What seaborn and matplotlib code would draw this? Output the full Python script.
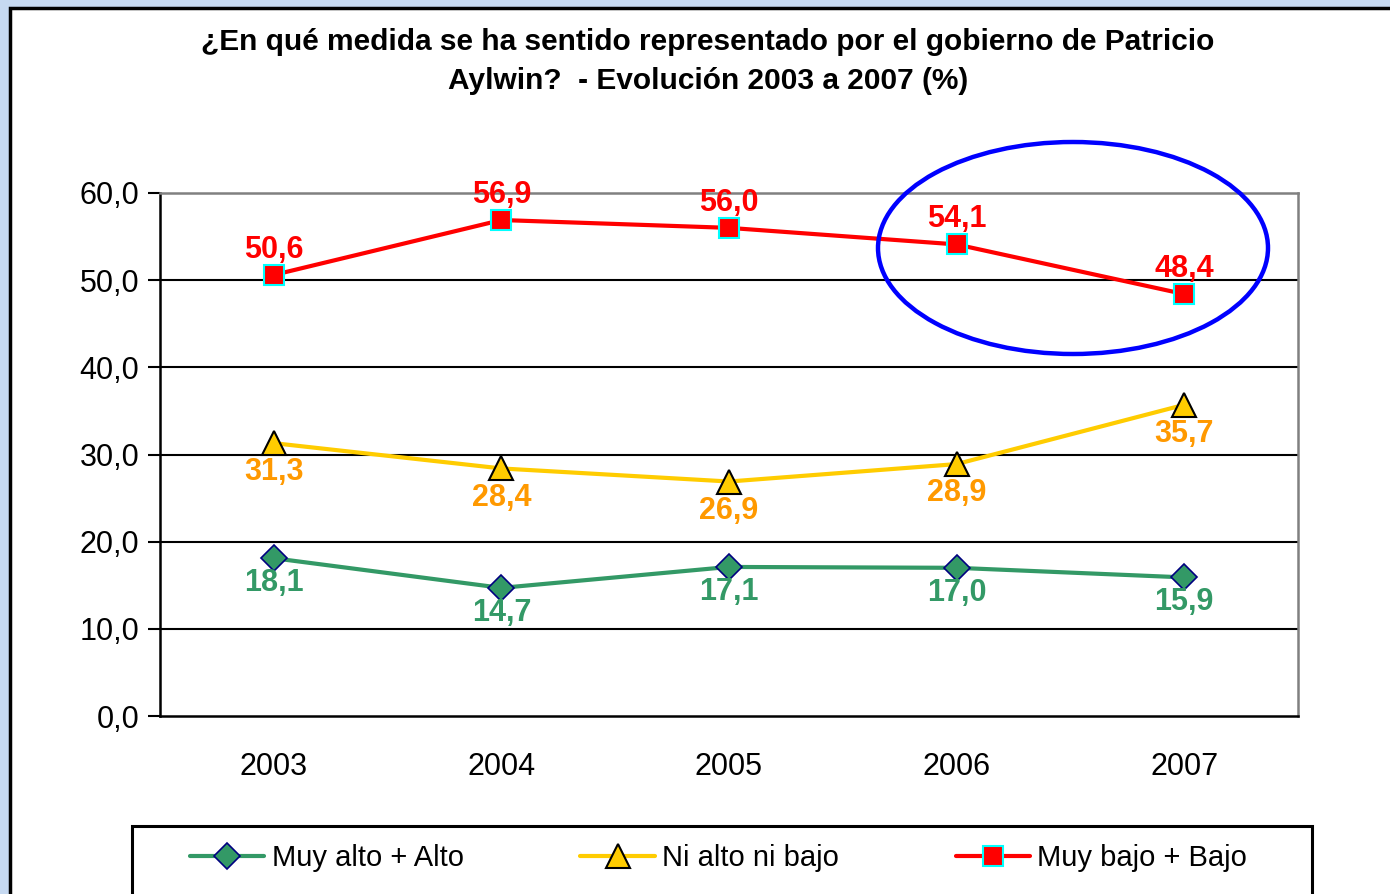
import matplotlib
matplotlib.use("Agg")
import matplotlib.pyplot as plt
from matplotlib.patches import Rectangle, Ellipse
import seaborn as sns
import pandas as pd

years = ["2003", "2004", "2005", "2006", "2007"]
series_names = ["Muy alto + Alto", "Ni alto ni bajo", "Muy bajo + Bajo"]
muy_alto_alto = [18.1, 14.7, 17.1, 17.0, 15.9]
ni_alto_ni_bajo = [31.3, 28.4, 26.9, 28.9, 35.7]
muy_bajo_bajo = [50.6, 56.9, 56.0, 54.1, 48.4]
y_ticks = [0, 10, 20, 30, 40, 50, 60]
title = "¿En qué medida se ha sentido representado por el gobierno de Patricio\nAylwin?  - Evolución 2003 a 2007 (%)"

sns.set_theme(style="white")
plt.rcParams['font.family'] = ['Liberation Sans', 'DejaVu Sans']
plt.rcParams['text.color'] = 'black'
plt.rcParams['xtick.color'] = 'black'
plt.rcParams['ytick.color'] = 'black'

W, H = 1390, 894
fig = plt.figure(figsize=(W / 100, H / 100), dpi=100)
fig.patch.set_facecolor("#c6d9f1")

# white panel with black border
fig.add_artist(Rectangle((10 / W, -0.05), 1.05, 1 - 8 / H + 0.05, transform=fig.transFigure,
                         facecolor="white", edgecolor="black", lw=2.5, zorder=0))

ax = fig.add_axes([160 / W, (H - 716) / H, (1298 - 160) / W, (716 - 193) / H])
ax.set_facecolor("white")
ax.set_zorder(1)

styles = [
    dict(color="#339966", marker="D", markersize=13, markerfacecolor="#339966",
         markeredgecolor="#000080", markeredgewidth=1.2, label_color="#339966", offset=-18),
    dict(color="#ffcc00", marker="^", markersize=17, markerfacecolor="#ffcc00",
         markeredgecolor="black", markeredgewidth=1.5, label_color="#ff9900", offset=-21),
    dict(color="#ff0000", marker="s", markersize=14, markerfacecolor="#ff0000",
         markeredgecolor="#00ffff", markeredgewidth=1.5, label_color="#ff0000", offset=18),
]
all_values = [muy_alto_alto, ni_alto_ni_bajo, muy_bajo_bajo]

for name, vals, st in zip(series_names, all_values, styles):
    df = pd.DataFrame({"x": list(range(len(years))), "y": vals})
    sns.lineplot(data=df, x="x", y="y", ax=ax, color=st["color"], lw=3,
                 marker=st["marker"], markersize=st["markersize"],
                 markerfacecolor=st["markerfacecolor"], markeredgecolor=st["markeredgecolor"],
                 markeredgewidth=st["markeredgewidth"], label=name, zorder=3, clip_on=False)
    for i, v in enumerate(vals):
        ax.annotate(f"{v:.1f}".replace(".", ","), (i, v), xytext=(0, st["offset"]),
                    textcoords="offset points", ha="center", va="center",
                    fontsize=22, fontweight="bold", color=st["label_color"], zorder=4)

ax.set_xlim(-0.5, len(years) - 0.5)
ax.set_ylim(0, 60)
ax.set_yticks(y_ticks)
ax.set_yticklabels([f"{t:.1f}".replace(".", ",") for t in y_ticks], fontsize=22)
ax.set_xticks(range(len(years)))
ax.set_xticklabels(years, fontsize=22)
ax.set_xticks([i - 0.5 for i in range(len(years) + 1)], minor=True)
ax.tick_params(axis="x", which="major", length=0, pad=26)
ax.tick_params(axis="x", which="minor", length=9, width=1.5, color="black", direction="out")
ax.tick_params(axis="y", length=9, width=1.5, color="black", direction="out", pad=6, left=True)
ax.set_xlabel("")
ax.set_ylabel("")
for yv in y_ticks[1:-1]:
    ax.axhline(yv, color="black", lw=1.5, zorder=1)
for s in ["left", "bottom"]:
    ax.spines[s].set_color("black")
    ax.spines[s].set_linewidth(1.8)
for s in ["top", "right"]:
    ax.spines[s].set_color("#808080")
    ax.spines[s].set_linewidth(1.8)

handles, labels = ax.get_legend_handles_labels()
if ax.get_legend():
    ax.get_legend().remove()

fig.suptitle(title, x=708 / W, y=1 - 28 / H, va="top", fontsize=21.5, fontweight="bold",
             linespacing=1.5, color="black")

# legend frame (extends below figure edge)
fig.add_artist(Rectangle((132 / W, -0.05), (1312 - 132) / W, (H - 826) / H + 0.05,
                         transform=fig.transFigure, facecolor="white", edgecolor="black",
                         lw=2.2, zorder=2))
leg = fig.legend(handles, labels, loc="center left", bbox_to_anchor=(190 / W, 1 - 858 / H),
                 ncol=3, frameon=False, fontsize=21, handlelength=2.55, handletextpad=0.25,
                 columnspacing=4.0, borderpad=0, borderaxespad=0)
leg.set_zorder(5)

# highlight ellipse
fig.add_artist(Ellipse((1073 / W, 1 - 248 / H), 390 / W, 212 / H, transform=fig.transFigure,
                       fill=False, edgecolor="#0000ff", lw=3.2, zorder=6))

fig.savefig("out.png", dpi=100, facecolor=fig.get_facecolor())
